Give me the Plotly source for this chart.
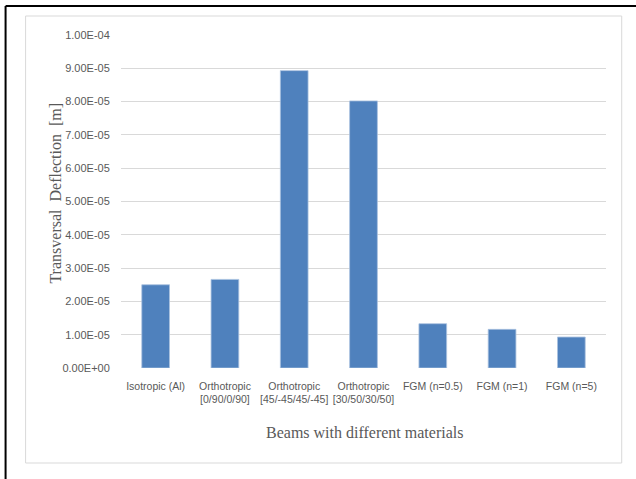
import plotly.graph_objects as go

# Beam materials and their transversal deflection [m]
categories = [
    "Isotropic (Al)",
    "Orthotropic<br>[0/90/0/90]",
    "Orthotropic<br>[45/-45/45/-45]",
    "Orthotropic<br>[30/50/30/50]",
    "FGM (n=0.5)",
    "FGM (n=1)",
    "FGM (n=5)",
]
deflection = [2.50e-5, 2.66e-5, 8.93e-5, 8.02e-5, 1.33e-5, 1.16e-5, 0.93e-5]
y_ticks = [i * 1e-5 for i in range(11)]
y_tick_text = [f"{v:.2E}" for v in y_ticks]

W, H = 636, 479
L, R, T, B = 121.4, 606.3, 35.0, 368.0


def px(x):
    return (x - L) / (R - L)


def py(y):
    return (B - y) / (B - T)


fig = go.Figure(
    go.Bar(
        x=list(range(len(categories))),
        y=deflection,
        width=0.4,
        marker=dict(color="#4f81bd", line=dict(color="#a9c1e0", width=0.8)),
    )
)

label_font = dict(family="Liberation Sans Narrow, Liberation Sans, Arial", size=10.5, color="#595959")
ylabel_font = dict(family="Liberation Sans Narrow, Liberation Sans, Arial", size=11, color="#595959")
serif_font = dict(family="Liberation Serif, Times New Roman, serif", size=16, color="#595959")

fig.update_layout(
    width=W,
    height=H,
    margin=dict(l=L, r=W - R, t=T, b=H - B, pad=0),
    paper_bgcolor="white",
    plot_bgcolor="white",
    showlegend=False,
    bargap=0.6,
    xaxis=dict(
        tickmode="array",
        tickvals=list(range(len(categories))),
        ticktext=categories,
        tickangle=0,
        range=[-0.5, len(categories) - 0.5],
        tickfont=label_font,
        showgrid=False,
        zeroline=False,
        showline=False,
        ticks="outside",
        ticklen=8,
        tickcolor="rgba(0,0,0,0)",
    ),
    yaxis=dict(
        range=[0, 1.0e-4],
        tickmode="array",
        tickvals=y_ticks,
        ticktext=y_tick_text,
        tickfont=ylabel_font,
        showgrid=True,
        gridcolor="#d9d9d9",
        gridwidth=1.2,
        zeroline=False,
        showline=False,
        ticks="outside",
        ticklen=8,
        tickcolor="rgba(0,0,0,0)",
    ),
    shapes=[
        # outer black frame (left and top edges)
        dict(type="line", xref="paper", yref="paper", x0=px(6), x1=px(6), y0=py(6), y1=py(485),
             line=dict(color="black", width=2)),
        dict(type="line", xref="paper", yref="paper", x0=px(6), x1=px(645), y0=py(6), y1=py(6),
             line=dict(color="black", width=2)),
        # chart area border
        dict(type="rect", xref="paper", yref="paper", x0=px(26), x1=px(622), y0=py(16), y1=py(463),
             line=dict(color="#d9d9d9", width=1), layer="below"),
    ],
    annotations=[
        dict(text="Transversal  Deflection  [m]", xref="paper", yref="paper",
             x=px(55), y=py(193), textangle=-90, showarrow=False, font=serif_font,
             xanchor="center", yanchor="middle"),
        dict(text="Beams with different materials", xref="paper", yref="paper",
             x=px(365), y=py(432), showarrow=False, font=serif_font,
             xanchor="center", yanchor="middle"),
    ],
)

fig.write_html("out.html")
